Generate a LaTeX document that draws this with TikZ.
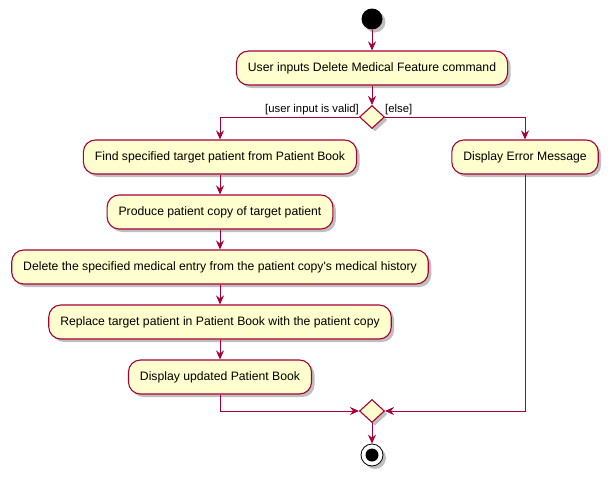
\documentclass[tikz,border=0pt]{standalone}
\usepackage{fontspec}
\setmainfont{Liberation Sans}
\usetikzlibrary{arrows.meta,shapes.geometric,shadows}
\definecolor{umlred}{HTML}{A80036}
\definecolor{umlfill}{HTML}{FEFECE}
\tikzset{
  umlshadow/.style={drop shadow={shadow xshift=3pt, shadow yshift=-3pt, opacity=0.25, fill=black}},
  activity/.style={draw=umlred, fill=umlfill, rounded corners=12pt, minimum height=34pt,
    inner xsep=11.5pt, line width=1.1pt, font=\fontsize{12.2}{14}\selectfont, umlshadow},
  choice/.style={draw=umlred, fill=umlfill, diamond, minimum width=25pt, minimum height=23pt,
    inner sep=0pt, line width=1.1pt, umlshadow},
  flow/.style={draw=umlred, line width=1pt, -{Stealth[length=9pt,width=8pt,inset=3pt]}},
  guard/.style={font=\fontsize{11.3}{13}\selectfont, inner sep=1pt}
}
\begin{document}
\begin{tikzpicture}[x=1pt, y=-1pt]
	\useasboundingbox (0,0) rectangle (614,482);

	\node[circle, fill=black, minimum size=21pt, inner sep=0pt, umlshadow] (start) at (372,19) {};
	\node[activity] (inputs) at (372,68) {User inputs Delete Medical Feature command};
	\node[choice] (valid) at (372,117) {};
	\node[guard, anchor=base east] at (360,112) {[user input is valid]};
	\node[guard, anchor=base west] at (384,112) {[else]};

	\node[activity] (find) at (220,157) {Find specified target patient from Patient Book};
	\node[activity] (copy) at (220,212) {Produce patient copy of target patient};
	\node[activity] (delete) at (220,267) {Delete the specified medical entry from the patient copy\textquotesingle s medical history};
	\node[activity] (replace) at (220,322) {Replace target patient in Patient Book with the patient copy};
	\node[activity] (display) at (220,377) {Display updated Patient Book};
	\node[activity] (error) at (525,157) {Display Error Message};

	\node[choice] (merge) at (372,411) {};
	\node[circle, draw=black, fill=white, line width=0.8pt, minimum size=22pt, inner sep=0pt, umlshadow] (stop) at (372,455) {};
	\fill[black] (stop.center) circle (6.5pt);

	\draw[flow] (start) -- (inputs);
	\draw[flow] (inputs) -- (valid);
	\draw[flow] (valid.west) -| (find.north);
	\draw[flow] (valid.east) -| (error.north);
	\draw[flow] (find) -- (copy);
	\draw[flow] (copy) -- (delete);
	\draw[flow] (delete) -- (replace);
	\draw[flow] (replace) -- (display);
	\draw[flow] (display.south) |- (merge.west);
	\draw[flow] (error.south) |- (merge.east);
	\draw[flow] (merge) -- (stop);
\end{tikzpicture}
\end{document}
